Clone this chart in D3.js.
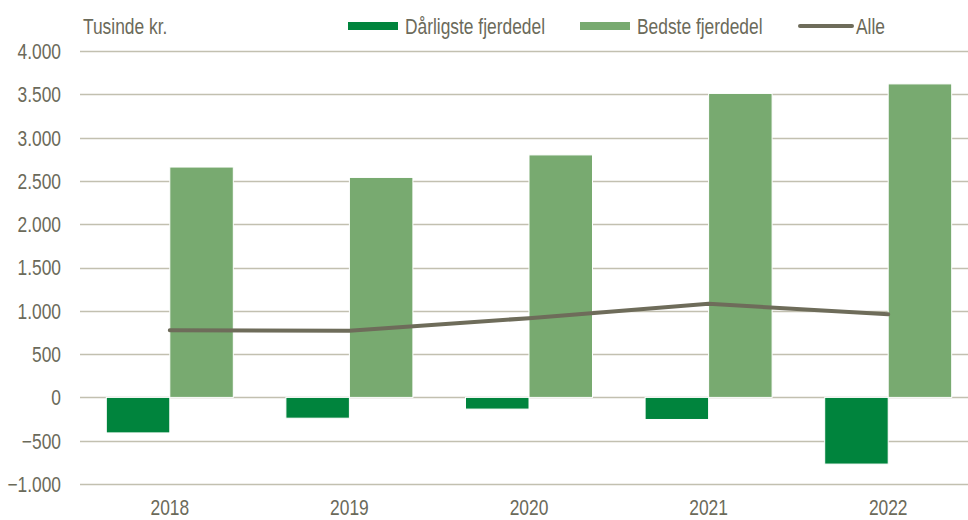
<!DOCTYPE html>
<html>
<head>
<meta charset="utf-8">
<script src="https://cdn.jsdelivr.net/npm/d3@7"></script>
<style>
  body { margin: 0; background: #fff; }
  text { font-family: "Liberation Sans", Arial, sans-serif; fill: #6b6a5a; font-size: 22px; }
</style>
</head>
<body>
<div id="chart"></div>
<script>
var width = 968;
var height = 520;

var years = ["2018", "2019", "2020", "2021", "2022"];
var worst = [-410, -240, -135, -255, -770];
var best = [2660, 2540, 2800, 3510, 3620];
var alle = [775, 770, 915, 1080, 960];
var yTicks = [-1000, -500, 0, 500, 1000, 1500, 2000, 2500, 3000, 3500, 4000];

var darkColor = "#00843d";
var lightColor = "#78aa70";
var lineColor = "#6e6c5a";
var gridColor = "#c2c0b0";

// narrow look: squeeze text horizontally
var squeeze = 0.79;

var svg = d3.select("#chart")
    .append("svg")
    .attr("width", width)
    .attr("height", height);

var x = d3.scaleBand()
    .domain(years)
    .range([80, 978]);

var y = d3.scaleLinear()
    .domain([-1000, 4000])
    .range([484, 51]);

function label(g, tx, ty, str, anchor, dy) {
    return g.append("text")
        .attr("transform", "translate(" + tx + "," + ty + ") scale(" + squeeze + ",1)")
        .attr("text-anchor", anchor || "start")
        .attr("dy", dy || 0)
        .text(str);
}

// gridlines
svg.append("g")
    .selectAll("line")
    .data(yTicks)
    .enter()
    .append("line")
    .attr("x1", 80)
    .attr("x2", width)
    .attr("y1", function (d) { return Math.round(y(d)) + 0.5; })
    .attr("y2", function (d) { return Math.round(y(d)) + 0.5; })
    .style("stroke", gridColor)
    .style("stroke-width", 1.5);

// y labels
var fmt = function (d) { return d3.format(",")(d).replace(/,/g, "."); };
var yLab = svg.append("g");
yTicks.forEach(function (d) {
    label(yLab, 61, y(d), fmt(d), "end", "0.36em");
});

// x labels
var xLab = svg.append("g");
years.forEach(function (d) {
    label(xLab, x(d) + x.bandwidth() / 2, 515, d, "middle");
});

var barW = 63.5;

// worst quarter bars
svg.append("g")
    .selectAll("rect")
    .data(worst)
    .enter()
    .append("rect")
    .attr("x", function (d, i) { return x(years[i]) + x.bandwidth() / 2 - barW; })
    .attr("y", function (d) { return y(Math.max(0, d)); })
    .attr("width", barW)
    .attr("height", function (d) { return Math.abs(y(d) - y(0)); })
    .style("fill", darkColor)
    .style("stroke", "#fff")
    .style("stroke-width", 1);

// best quarter bars
svg.append("g")
    .selectAll("rect")
    .data(best)
    .enter()
    .append("rect")
    .attr("x", function (d, i) { return x(years[i]) + x.bandwidth() / 2; })
    .attr("y", function (d) { return y(Math.max(0, d)); })
    .attr("width", barW)
    .attr("height", function (d) { return Math.abs(y(d) - y(0)); })
    .style("fill", lightColor)
    .style("stroke", "#fff")
    .style("stroke-width", 1);

// line for all
var line = d3.line()
    .x(function (d, i) { return x(years[i]) + x.bandwidth() / 2; })
    .y(function (d) { return y(d); });

svg.append("path")
    .datum(alle)
    .attr("d", line)
    .style("fill", "none")
    .style("stroke", lineColor)
    .style("stroke-width", 4)
    .style("stroke-linecap", "round");

// unit label
label(svg, 83, 34, "Tusinde kr.");

// legend
var legend = svg.append("g");
legend.append("rect")
    .attr("x", 348).attr("y", 22).attr("width", 50).attr("height", 8)
    .style("fill", darkColor);
label(legend, 405, 34, "Dårligste fjerdedel");
legend.append("rect")
    .attr("x", 580).attr("y", 22).attr("width", 50).attr("height", 8)
    .style("fill", lightColor);
label(legend, 637, 34, "Bedste fjerdedel");
legend.append("line")
    .attr("x1", 800).attr("x2", 852).attr("y1", 26).attr("y2", 26)
    .style("stroke", lineColor)
    .style("stroke-width", 4)
    .style("stroke-linecap", "round");
label(legend, 856, 34, "Alle");
</script>
</body>
</html>
